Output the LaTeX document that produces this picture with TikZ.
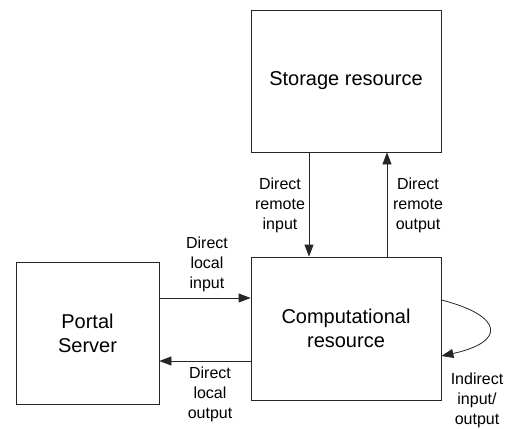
\documentclass[tikz,border=0pt]{standalone}
\usepackage{fontspec}
\setmainfont{Liberation Sans}
\usetikzlibrary{arrows.meta}
\begin{document}
\begin{tikzpicture}[x=1pt,y=-1pt,
  box/.style={draw=black!85, line width=0.8pt, align=center, inner sep=0pt,
              font=\fontsize{20}{24}\selectfont},
  lbl/.style={align=center, inner sep=0pt, font=\fontsize{16}{20}\selectfont},
  arr/.style={draw=black!85, line width=0.8pt, -{Triangle[length=12pt,width=9pt]}}]
\useasboundingbox (0,0) rectangle (508,428);

% the three resources
\node[box, minimum width=190pt, minimum height=142pt] (storage) at (346,81) {Storage resource};
\node[box, minimum width=190pt, minimum height=143pt] (comp) at (346,328.5) {Computational\\resource};
\node[box, minimum width=143pt, minimum height=142pt] (portal) at (87.5,333) {Portal\\Server};

% remote transfers between storage and computation
\coordinate (xin) at (309,0);
\coordinate (xout) at (387,0);
\draw[arr] (storage.south -| xin) -- (comp.north -| xin);
\draw[arr] (comp.north -| xout) -- (storage.south -| xout);

% local transfers between portal and computation
\coordinate (yin) at (0,298);
\coordinate (yout) at (0,361);
\draw[arr] (portal.east |- yin) -- (comp.west |- yin);
\draw[arr] (comp.west |- yout) -- (portal.east |- yout);

% indirect loop on the computational resource
\coordinate (ls) at (0,300);
\coordinate (le) at (0,356);
\draw[arr] (comp.east |- ls) .. controls (504,316) and (506,342) .. (comp.east |- le);

% labels
\node[lbl] (lri) at (280,205) {Direct\\remote\\input};
\node[lbl] (lro) at (418,205) {Direct\\remote\\output};
\node[lbl] (lli) at (207,264) {Direct\\local\\input};
\node[lbl] (llo) at (210,394) {Direct\\local\\output};
\node[lbl] (lio) at (477,400) {Indirect\\input/\\output};
\end{tikzpicture}
\end{document}
